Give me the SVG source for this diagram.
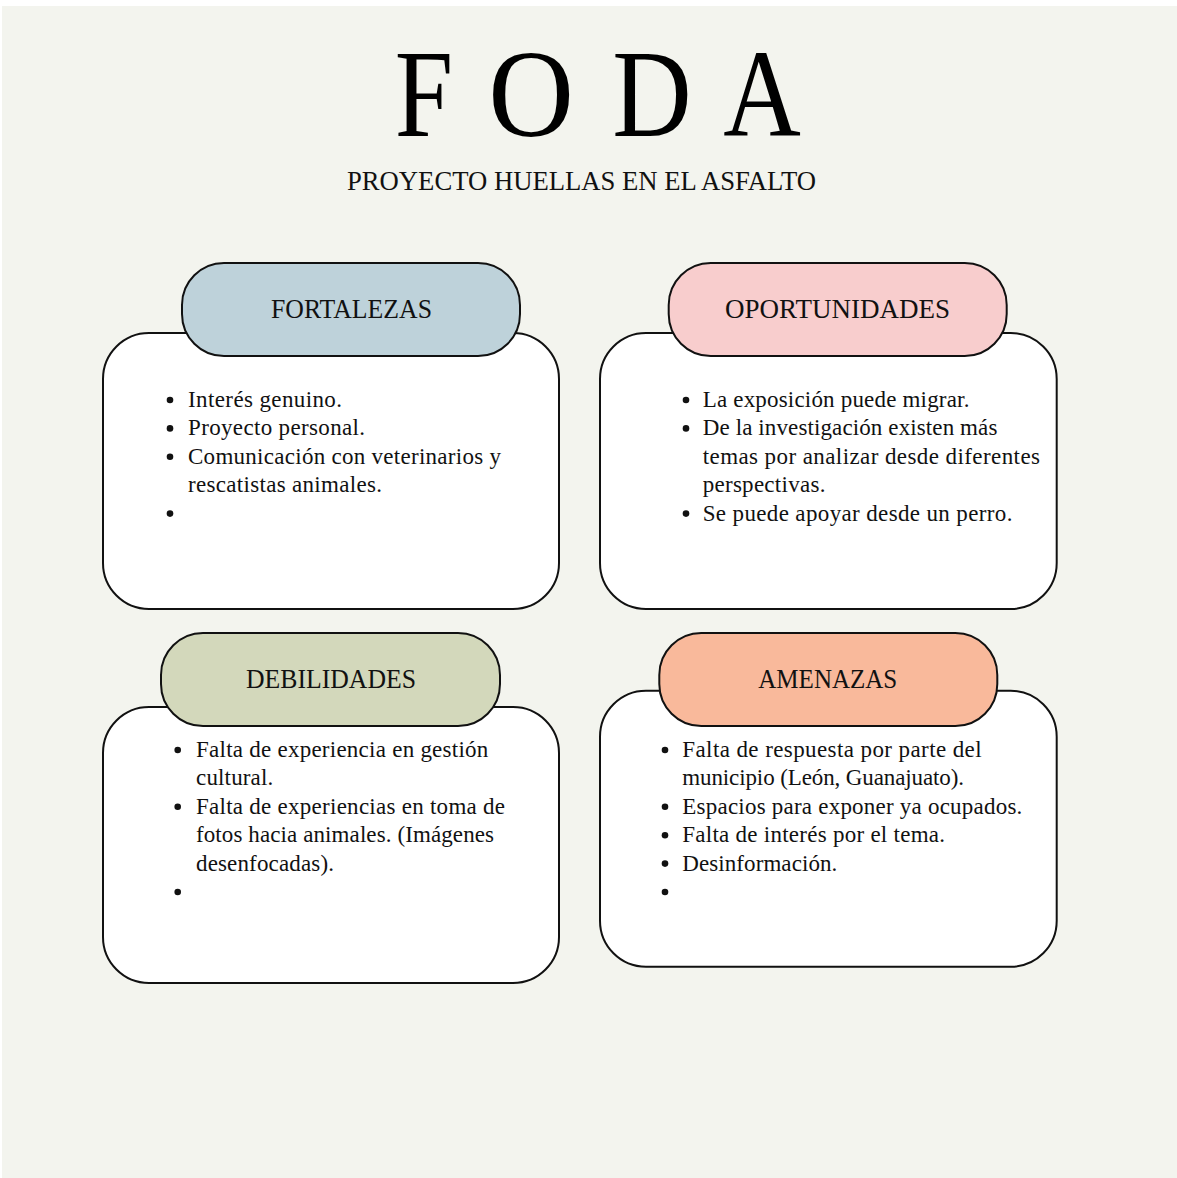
<svg xmlns="http://www.w3.org/2000/svg" width="1177" height="1178" viewBox="0 0 1177 1178">
<style>
.bg{fill:#f3f4ee}
.body{fill:#ffffff;stroke:#111;stroke-width:2}
.pill{stroke:#111;stroke-width:2}
.title{font-family:"Liberation Serif",serif;fill:#000;font-size:125px}
.sub{font-family:"Liberation Serif",serif;fill:#111;font-size:28px}
.head{font-family:"Liberation Serif",serif;fill:#111;font-size:27px;text-anchor:middle}
.item{font-family:"Liberation Serif",serif;fill:#111;font-size:23px}
.dot{fill:#111}
</style>
<rect x="0" y="0" width="1177" height="1178" fill="#ffffff"/>
<rect class="bg" x="2" y="6" width="1175" height="1172"/>
<g id="title">
<text class="title" text-anchor="middle" transform="translate(424,136) scale(0.84,1)">F</text>
<text class="title" text-anchor="middle" transform="translate(531,136) scale(0.95,1)">O</text>
<text class="title" text-anchor="middle" transform="translate(652,136) scale(0.88,1)">D</text>
<text class="title" text-anchor="middle" transform="translate(762,136) scale(0.86,1)">A</text>
<text class="sub" x="347" y="190" textLength="469" lengthAdjust="spacingAndGlyphs">PROYECTO HUELLAS EN EL ASFALTO</text>
</g>
<g id="fortalezas">
<rect class="body" x="103" y="333" width="456" height="276" rx="46"/>
<rect class="pill" x="182" y="263" width="338" height="93" rx="42" fill="#bed2da"/>
<text class="head" x="351.5" y="318" textLength="161" lengthAdjust="spacingAndGlyphs">FORTALEZAS</text>
<circle class="dot" cx="170" cy="400" r="3.3"/>
<circle class="dot" cx="170" cy="428.4" r="3.3"/>
<circle class="dot" cx="170" cy="456.8" r="3.3"/>
<circle class="dot" cx="170" cy="513.6" r="3.3"/>
<text class="item" x="188" y="407" textLength="154">Interés genuino.</text>
<text class="item" x="188" y="435.4" textLength="177">Proyecto personal.</text>
<text class="item" x="188" y="463.8" textLength="313">Comunicación con veterinarios y</text>
<text class="item" x="188" y="492.2" textLength="194">rescatistas animales.</text>
</g>
<g id="oportunidades">
<rect class="body" x="600" y="333" width="456.7" height="276" rx="46"/>
<rect class="pill" x="668.7" y="263" width="338" height="93" rx="42" fill="#f8cdcd"/>
<text class="head" x="837.5" y="318" textLength="225" lengthAdjust="spacingAndGlyphs">OPORTUNIDADES</text>
<circle class="dot" cx="686" cy="400" r="3.3"/>
<circle class="dot" cx="686" cy="428.4" r="3.3"/>
<circle class="dot" cx="686" cy="513.6" r="3.3"/>
<text class="item" x="702.7" y="407" textLength="266.7">La exposición puede migrar.</text>
<text class="item" x="702.7" y="435.4" textLength="294.7">De la investigación existen más</text>
<text class="item" x="702.7" y="463.8" textLength="337.3">temas por analizar desde diferentes</text>
<text class="item" x="702.7" y="492.2" textLength="122.7">perspectivas.</text>
<text class="item" x="702.7" y="520.6" textLength="309.7">Se puede apoyar desde un perro.</text>
</g>
<g id="debilidades">
<rect class="body" x="103" y="707" width="456" height="276" rx="46"/>
<rect class="pill" x="161" y="633" width="339" height="93" rx="42" fill="#d3d8bb"/>
<text class="head" x="331" y="688" textLength="170" lengthAdjust="spacingAndGlyphs">DEBILIDADES</text>
<circle class="dot" cx="177.7" cy="750" r="3.3"/>
<circle class="dot" cx="177.7" cy="806.8" r="3.3"/>
<circle class="dot" cx="177.7" cy="892" r="3.3"/>
<text class="item" x="196" y="757" textLength="292.3">Falta de experiencia en gestión</text>
<text class="item" x="196" y="785.4" textLength="77.3">cultural.</text>
<text class="item" x="196" y="813.8" textLength="309">Falta de experiencias en toma de</text>
<text class="item" x="196" y="842.2" textLength="298">fotos hacia animales. (Imágenes</text>
<text class="item" x="196" y="870.6" textLength="138">desenfocadas).</text>
</g>
<g id="amenazas">
<rect class="body" x="600" y="690.7" width="456.7" height="276" rx="46"/>
<rect class="pill" x="659.3" y="633" width="338" height="93" rx="42" fill="#f9b99b"/>
<text class="head" x="827.8" y="688" textLength="139" lengthAdjust="spacingAndGlyphs">AMENAZAS</text>
<circle class="dot" cx="665" cy="750" r="3.3"/>
<circle class="dot" cx="665" cy="806.8" r="3.3"/>
<circle class="dot" cx="665" cy="835.2" r="3.3"/>
<circle class="dot" cx="665" cy="863.6" r="3.3"/>
<circle class="dot" cx="665" cy="892" r="3.3"/>
<text class="item" x="682.3" y="757" textLength="299.3">Falta de respuesta por parte del</text>
<text class="item" x="682.3" y="785.4" textLength="281.7">municipio (León, Guanajuato).</text>
<text class="item" x="682.3" y="813.8" textLength="340">Espacios para exponer ya ocupados.</text>
<text class="item" x="682.3" y="842.2" textLength="262.7">Falta de interés por el tema.</text>
<text class="item" x="682.3" y="870.6" textLength="155">Desinformación.</text>
</g>
<g id="connectors"></g>
</svg>
